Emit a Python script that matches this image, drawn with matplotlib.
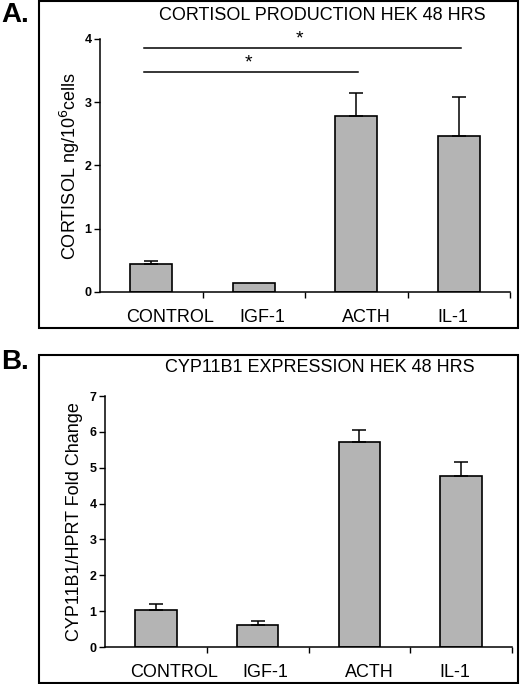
import matplotlib.pyplot as plt
from matplotlib.patches import Rectangle

plt.rcParams['font.family'] = ['Liberation Sans', 'DejaVu Sans']

categories = ['CONTROL', 'IGF-1', 'ACTH', 'IL-1']

# panel A: cortisol production
cortisol = [0.44, 0.15, 2.79, 2.46]
cortisol_err = [0.05, 0.0, 0.36, 0.62]
sig_pairs = [(0, 3, 3.85), (0, 2, 3.48)]

# panel B: CYP11B1 expression
cyp = [1.02, 0.60, 5.72, 4.77]
cyp_err = [0.19, 0.13, 0.33, 0.40]

# labels sit a little off the bar centres in the original
label_shift = [0.18, 0.08, 0.1, -0.06]

bar_color = '#b4b4b4'
W, H = 520, 684
fig = plt.figure(figsize=(W / 100, H / 100), dpi=100)


def draw_panel(ax, vals, errs, ymax, ylabel, lpad):
    x = range(len(categories))
    ax.bar(x, vals, width=0.41, color=bar_color, edgecolor='black', linewidth=1.2, zorder=2)
    for xi, v, e in zip(x, vals, errs):
        if e > 0:
            ax.errorbar(xi, v, yerr=[[0], [e]], fmt='none', ecolor='black',
                        elinewidth=1.1, capsize=5, capthick=1.1, zorder=3)
    ax.set_xlim(-0.5, 3.5)
    ax.set_ylim(0, ymax)
    ax.set_yticks(range(ymax + 1))
    ax.spines['top'].set_visible(False)
    ax.spines['right'].set_visible(False)
    ax.spines['left'].set_linewidth(1.1)
    ax.spines['bottom'].set_linewidth(1.1)
    ax.set_xticks([0.5, 1.5, 2.5, 3.5])
    ax.set_xticklabels([])
    ax.tick_params(axis='x', which='major', direction='out', length=4, width=1)
    ax.set_xticks([xi + s for xi, s in zip(x, label_shift)], minor=True)
    ax.set_xticklabels(categories, minor=True, fontsize=13)
    ax.tick_params(axis='x', which='minor', length=0, pad=12)
    ax.tick_params(axis='y', direction='out', length=4, width=1, labelsize=9, pad=2)
    for lab in ax.get_yticklabels():
        lab.set_fontweight('bold')
    ax.set_ylabel(ylabel, fontsize=13, labelpad=lpad)


# panel A
fig.add_artist(Rectangle((39 / W, 1 - 328 / H), 479 / W, 327 / H, transform=fig.transFigure,
                         fill=False, edgecolor='black', linewidth=1.5))
axA = fig.add_axes([100 / W, 1 - 292 / H, 410 / W, 253 / H])
draw_panel(axA, cortisol, cortisol_err, 4, 'CORTISOL ng/10$^6$cells', 2)
for i, j, y in sig_pairs:
    axA.plot([i - 0.07, j + 0.02], [y, y], color='black', linewidth=1.1)
    axA.text((i + j) / 2 - 0.05, y + 0.01, '*', ha='center', va='bottom', fontsize=14)
fig.text(322 / W, 1 - 15 / H, 'CORTISOL PRODUCTION HEK 48 HRS', ha='center', va='center', fontsize=13)
fig.text(1 / W, 1 - 15 / H, 'A.', ha='left', va='center', fontsize=20, fontweight='bold')

# panel B
fig.add_artist(Rectangle((39 / W, 1 / H), 479 / W, 328 / H, transform=fig.transFigure,
                         fill=False, edgecolor='black', linewidth=1.5))
axB = fig.add_axes([105 / W, 1 - 647 / H, 407 / W, 251 / H])
draw_panel(axB, cyp, cyp_err, 7, 'CYP11B1/HPRT Fold Change', 5)
fig.text(320 / W, 1 - 367 / H, 'CYP11B1 EXPRESSION HEK 48 HRS', ha='center', va='center', fontsize=13)
fig.text(1 / W, 1 - 362 / H, 'B.', ha='left', va='center', fontsize=20, fontweight='bold')

plt.savefig('out.png', dpi=100)
